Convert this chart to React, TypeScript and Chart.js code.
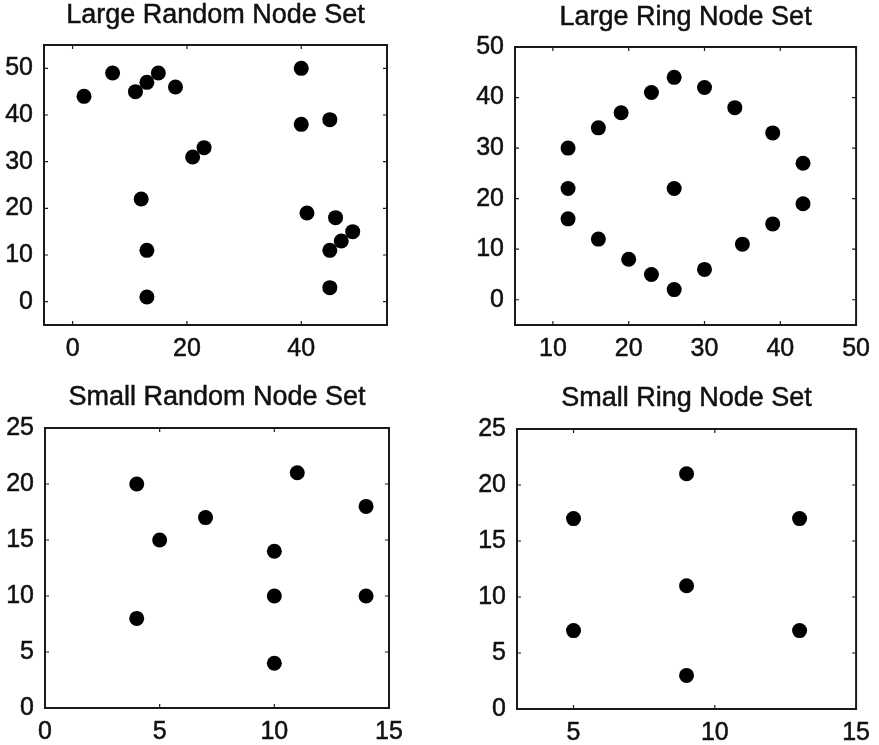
import React, { useEffect, useRef } from "react";
import { Chart, registerables } from "chart.js";

Chart.register(...registerables);

const FONT = "'Liberation Sans', Arial, Helvetica, sans-serif";

// ---- Large Random Node Set ----
const largeRandomX = [2, 7, 11, 13, 15, 18, 21, 23, 12, 13, 13, 40, 40, 45, 41, 46, 49, 47, 45, 45];
const largeRandomY = [44, 49, 45, 47, 49, 46, 31, 33, 22, 11, 1, 50, 38, 39, 19, 18, 15, 13, 11, 3];
const largeRandomXTicks = [0, 20, 40];
const largeRandomYTicks = [0, 10, 20, 30, 40, 50];

// ---- Large Ring Node Set ----
const largeRingX = [12, 12, 12, 16, 16, 19, 20, 23, 23, 26, 26, 26, 30, 30, 34, 35, 39, 39, 43, 43];
const largeRingY = [30, 22, 16, 34, 12, 37, 8, 41, 5, 44, 22, 2, 42, 6, 38, 11, 33, 15, 27, 19];
const largeRingXTicks = [10, 20, 30, 40, 50];
const largeRingYTicks = [0, 10, 20, 30, 40, 50];

// ---- Small Random Node Set ----
const smallRandomX = [4, 4, 5, 7, 10, 10, 10, 11, 14, 14];
const smallRandomY = [20, 8, 15, 17, 14, 10, 4, 21, 18, 10];
const smallRandomXTicks = [0, 5, 10, 15];
const smallRandomYTicks = [0, 5, 10, 15, 20, 25];

// ---- Small Ring Node Set ----
const smallRingX = [5, 5, 9, 9, 9, 13, 13];
const smallRingY = [17, 7, 21, 11, 3, 17, 7];
const smallRingXTicks = [5, 10, 15];
const smallRingYTicks = [0, 5, 10, 15, 20, 25];

type PanelProps = {
  title: string;
  xs: number[];
  ys: number[];
  xRange: [number, number];
  yRange: [number, number];
  xTicks: number[];
  yTicks: number[];
  pos: { left: number; top: number; width: number; height: number };
  area: { left: number; right: number; top: number; bottom: number };
  titleY: number;
};

function Panel(p: PanelProps) {
  const ref = useRef<HTMLCanvasElement | null>(null);
  useEffect(() => {
    if (!ref.current) return;
    const { width, height } = p.pos;
    const area = p.area;
    const points = p.xs.map((x, i) => ({ x, y: p.ys[i] }));
    const deco = {
      id: "deco" + p.title.replace(/\s/g, ""),
      beforeDatasetsDraw(chart: any) {
        const ctx = chart.ctx;
        const ca = chart.chartArea;
        const xs = chart.scales.x;
        const ys = chart.scales.y;
        ctx.save();
        ctx.strokeStyle = "#1a1a1a";
        ctx.lineWidth = 2;
        ctx.strokeRect(ca.left, ca.top, ca.right - ca.left, ca.bottom - ca.top);
        ctx.lineWidth = 1.2;
        const tl = 4;
        ctx.beginPath();
        p.xTicks.forEach((v) => {
          const px = xs.getPixelForValue(v);
          ctx.moveTo(px, ca.bottom);
          ctx.lineTo(px, ca.bottom - tl);
          ctx.moveTo(px, ca.top);
          ctx.lineTo(px, ca.top + tl);
        });
        p.yTicks.forEach((v) => {
          const py = ys.getPixelForValue(v);
          ctx.moveTo(ca.left, py);
          ctx.lineTo(ca.left + tl, py);
          ctx.moveTo(ca.right, py);
          ctx.lineTo(ca.right - tl, py);
        });
        ctx.stroke();
        ctx.restore();
      },
      afterDraw(chart: any) {
        const ctx = chart.ctx;
        const ca = chart.chartArea;
        ctx.save();
        ctx.fillStyle = "#111";
        ctx.strokeStyle = "#111";
        ctx.lineWidth = 0.5;
        ctx.font = `27px ${FONT}`;
        ctx.textAlign = "center";
        ctx.textBaseline = "middle";
        const cx = (ca.left + ca.right) / 2;
        ctx.fillText(p.title, cx, p.titleY);
        ctx.strokeText(p.title, cx, p.titleY);
        ctx.restore();
      },
    };
    const tickFont = { family: FONT, size: 25 };
    const chart = new Chart(ref.current, {
      type: "scatter",
      data: {
        datasets: [
          {
            data: points,
            backgroundColor: "#000",
            borderColor: "#000",
            borderWidth: 0,
            pointRadius: 7.5,
            pointHoverRadius: 7.5,
          },
        ],
      },
      options: {
        animation: false,
        responsive: false,
        events: [],
        layout: {
          padding: { left: 0, top: area.top, right: width - area.right, bottom: 0 },
        },
        plugins: {
          legend: { display: false },
          title: { display: false },
          tooltip: { enabled: false },
        },
        scales: {
          x: {
            type: "linear",
            min: p.xRange[0],
            max: p.xRange[1],
            afterBuildTicks: (s: any) => {
              s.ticks = p.xTicks.map((v) => ({ value: v }));
            },
            afterFit: (s: any) => {
              s.height = height - area.bottom;
            },
            grid: { display: false, drawTicks: false },
            border: { display: false },
            ticks: {
              font: tickFont,
              color: "#111",
              textStrokeColor: "#111",
              textStrokeWidth: 0.5,
              padding: 9,
              maxRotation: 0,
              autoSkip: false,
              callback: (v: any) => String(v),
            },
          },
          y: {
            type: "linear",
            min: p.yRange[0],
            max: p.yRange[1],
            afterBuildTicks: (s: any) => {
              s.ticks = p.yTicks.map((v) => ({ value: v }));
            },
            afterFit: (s: any) => {
              s.width = area.left;
            },
            grid: { display: false, drawTicks: false },
            border: { display: false },
            ticks: {
              font: tickFont,
              color: "#111",
              textStrokeColor: "#111",
              textStrokeWidth: 0.5,
              padding: 11,
              autoSkip: false,
              callback: (v: any) => String(v),
            },
          },
        },
      },
      plugins: [deco],
    } as any);
    return () => chart.destroy();
  }, []);
  return (
    <div
      style={{
        position: "absolute",
        left: p.pos.left,
        top: p.pos.top,
        width: p.pos.width,
        height: p.pos.height,
      }}
    >
      <canvas
        ref={ref}
        width={p.pos.width}
        height={p.pos.height}
        style={{ display: "block", width: p.pos.width, height: p.pos.height }}
      />
    </div>
  );
}

export default function App() {
  return (
    <div
      style={{
        position: "absolute",
        left: 0,
        top: 0,
        width: 879,
        height: 745,
        background: "#fff",
        overflow: "hidden",
      }}
    >
      <Panel
        title="Large Random Node Set"
        xs={largeRandomX}
        ys={largeRandomY}
        xRange={[-5, 55]}
        yRange={[-5, 55]}
        xTicks={largeRandomXTicks}
        yTicks={largeRandomYTicks}
        pos={{ left: 0, top: 0, width: 440, height: 370 }}
        area={{ left: 44, right: 387, top: 45, bottom: 325 }}
        titleY={16}
      />
      <Panel
        title="Large Ring Node Set"
        xs={largeRingX}
        ys={largeRingY}
        xRange={[5, 50]}
        yRange={[-5, 50]}
        xTicks={largeRingXTicks}
        yTicks={largeRingYTicks}
        pos={{ left: 440, top: 0, width: 439, height: 370 }}
        area={{ left: 75, right: 417, top: 47, bottom: 325 }}
        titleY={18}
      />
      <Panel
        title="Small Random Node Set"
        xs={smallRandomX}
        ys={smallRandomY}
        xRange={[0, 15]}
        yRange={[0, 25]}
        xTicks={smallRandomXTicks}
        yTicks={smallRandomYTicks}
        pos={{ left: 0, top: 370, width: 440, height: 375 }}
        area={{ left: 45, right: 389, top: 58, bottom: 338 }}
        titleY={28}
      />
      <Panel
        title="Small Ring Node Set"
        xs={smallRingX}
        ys={smallRingY}
        xRange={[3, 15]}
        yRange={[0, 25]}
        xTicks={smallRingXTicks}
        yTicks={smallRingYTicks}
        pos={{ left: 440, top: 370, width: 439, height: 375 }}
        area={{ left: 77, right: 419, top: 59, bottom: 339 }}
        titleY={29}
      />
    </div>
  );
}
